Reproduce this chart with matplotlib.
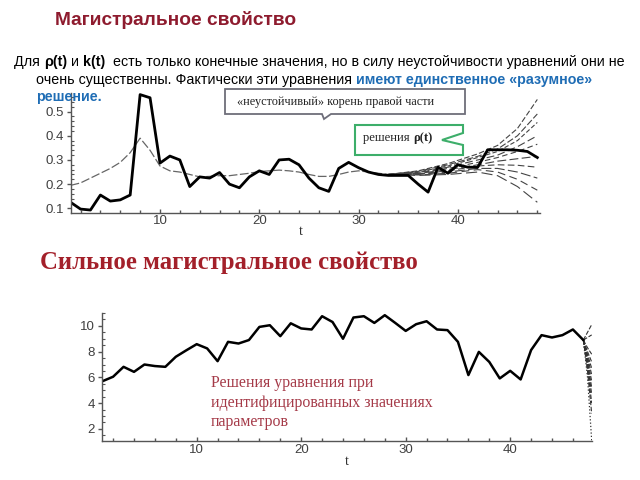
import matplotlib
matplotlib.use('Agg')
import matplotlib.pyplot as plt
from matplotlib.patches import Polygon
from matplotlib.ticker import MultipleLocator

# ---------------- data ----------------
t_top = list(range(1, 49))
rho = [0.125, 0.097, 0.093, 0.155, 0.130, 0.135, 0.155, 0.570, 0.557, 0.287,
       0.316, 0.300, 0.190, 0.230, 0.225, 0.248, 0.200, 0.185, 0.230, 0.255,
       0.240, 0.300, 0.303, 0.280, 0.225, 0.185, 0.170, 0.265, 0.290, 0.268,
       0.250, 0.240, 0.236, 0.236, 0.236, 0.200, 0.167, 0.270, 0.245, 0.280,
       0.270, 0.270, 0.342, 0.342, 0.342, 0.340, 0.335, 0.310]

t_trend = list(range(1, 34))
trend = [0.195, 0.205, 0.225, 0.245, 0.265, 0.290, 0.330, 0.390, 0.340, 0.275,
         0.255, 0.250, 0.240, 0.230, 0.232, 0.235, 0.235, 0.240, 0.245, 0.252,
         0.255, 0.258, 0.255, 0.250, 0.240, 0.232, 0.232, 0.240, 0.250, 0.255,
         0.250, 0.245, 0.240]

fan_t = [33, 36, 39, 42, 44, 46, 48]
fan_rho = [
    [0.240, 0.255, 0.285, 0.325, 0.360, 0.430, 0.550],
    [0.240, 0.253, 0.280, 0.315, 0.345, 0.400, 0.490],
    [0.240, 0.250, 0.275, 0.310, 0.335, 0.380, 0.455],
    [0.240, 0.248, 0.270, 0.300, 0.320, 0.355, 0.400],
    [0.240, 0.246, 0.265, 0.290, 0.310, 0.335, 0.365],
    [0.240, 0.244, 0.260, 0.280, 0.295, 0.305, 0.315],
    [0.240, 0.242, 0.255, 0.275, 0.280, 0.278, 0.270],
    [0.240, 0.240, 0.250, 0.265, 0.265, 0.250, 0.225],
    [0.240, 0.238, 0.245, 0.260, 0.250, 0.220, 0.175],
    [0.240, 0.236, 0.240, 0.250, 0.235, 0.190, 0.125],
]

t_bot = list(range(1, 48))
k_vals = [5.71, 6.05, 6.82, 6.43, 7.00, 6.88, 6.82, 7.60, 8.10, 8.58,
          8.25, 7.26, 8.76, 8.63, 8.90, 9.92, 10.05, 9.20, 10.20, 9.80,
          9.72, 10.75, 10.30, 9.00, 10.65, 10.75, 10.23, 10.83, 10.23, 9.61,
          10.13, 10.36, 9.72, 9.67, 8.76, 6.18, 7.98, 7.20, 5.92, 6.51,
          5.84, 8.12, 9.28, 9.10, 9.28, 9.72, 8.90]

fan_k_t = [47, 47.4, 47.8]
fan_k = [
    [8.90, 9.50, 10.10],
    [8.90, 9.10, 9.30],
    [8.90, 8.30, 7.80],
    [8.90, 8.00, 7.20],
    [8.90, 7.80, 6.70],
    [8.90, 7.60, 6.20],
    [8.90, 7.40, 5.70],
    [8.90, 7.20, 5.20],
    [8.90, 7.00, 4.70],
    [8.90, 6.80, 4.00],
    [8.90, 6.50, 3.20],
]
fan_k_dotted = [8.90, 6.00, 1.10]

top_yticks = [0.1, 0.2, 0.3, 0.4, 0.5]
bot_yticks = [2, 4, 6, 8, 10]
xticks = [10, 20, 30, 40]

# ---------------- layout ----------------
W, H = 640, 480
fig = plt.figure(figsize=(6.4, 4.8), dpi=100)
fig.patch.set_facecolor('white')


def rect(l, r, top, bottom):
    return [l / W, 1 - bottom / H, (r - l) / W, (bottom - top) / H]


def style_axes(ax, ymajor_fmt):
    for s in ('top', 'right'):
        ax.spines[s].set_visible(False)
    for s in ('left', 'bottom'):
        ax.spines[s].set_color('#555555')
        ax.spines[s].set_linewidth(1.0)
    ax.set_facecolor('none')
    ax.xaxis.set_major_locator(MultipleLocator(10))
    ax.xaxis.set_minor_locator(MultipleLocator(2))
    ax.tick_params(axis='x', which='major', direction='in', length=3, width=1,
                   color='#555555', pad=2, labelsize=9.5, labelcolor='#404040')
    ax.tick_params(axis='x', which='minor', direction='in', length=2.5, width=1,
                   color='#555555')
    ax.tick_params(axis='y', which='major', direction='out', length=3, width=1,
                   color='#555555', pad=2, labelsize=9.5, labelcolor='#404040')
    ax.tick_params(axis='y', which='minor', direction='in', length=2, width=0.8,
                   color='#555555')
    for lab in ax.get_xticklabels() + ax.get_yticklabels():
        lab.set_family('Liberation Sans')


# top chart
ax1 = fig.add_axes(rect(70.6, 540.3, 93.4, 212.7))
ax1.set_xlim(1, 48.3)
ax1.set_ylim(0.082, 0.575)
style_axes(ax1, None)
ax1.set_yticks(top_yticks)
ax1.set_yticklabels([f'{v:.1f}' for v in top_yticks], family='Liberation Sans')
ax1.yaxis.set_minor_locator(MultipleLocator(0.02))
ax1.set_xticks(xticks)
ax1.set_xticklabels([str(v) for v in xticks], family='Liberation Sans')

ax1.plot(t_trend, trend, color='#666666', lw=0.9, ls=(0, (7, 2)))
dash_styles = [(0, (5, 2)), (0, (6, 2)), (0, (4, 2)), (0, (7, 3)), (0, (5, 3)),
               (0, (8, 3)), (0, (6, 3)), (0, (9, 3)), (0, (7, 4)), (0, (10, 4))]
for vals, ds in zip(fan_rho, dash_styles):
    ax1.plot(fan_t, vals, color='#444444', lw=0.8, ls=ds)
ax1.plot(t_top, rho, color='black', lw=2.0, solid_joinstyle='round')
ax1.text(24.2, -0.16, 't', transform=ax1.get_xaxis_transform(), ha='center',
         va='center', family='Liberation Serif', fontsize=10, color='#333333')

# bottom chart
ax2 = fig.add_axes(rect(101.6, 591.7, 313, 441))
ax2.set_xlim(0.9, 47.8)
ax2.set_ylim(1.06, 11.0)
style_axes(ax2, None)
ax2.set_yticks(bot_yticks)
ax2.set_yticklabels([str(v) for v in bot_yticks], family='Liberation Sans')
ax2.yaxis.set_minor_locator(MultipleLocator(0.5))
ax2.set_xticks(xticks)
ax2.set_xticklabels([str(v) for v in xticks], family='Liberation Sans')

for vals in fan_k:
    ax2.plot(fan_k_t, vals, color='#333333', lw=0.8, ls=(0, (4, 1.5)))
ax2.plot(fan_k_t, fan_k_dotted, color='#333333', lw=0.9, ls=':')
ax2.plot(t_bot, k_vals, color='black', lw=1.8, solid_joinstyle='round')
ax2.text(24.4, -0.16, 't', transform=ax2.get_xaxis_transform(), ha='center',
         va='center', family='Liberation Serif', fontsize=10, color='#333333')

# overlay for slide text
ov = fig.add_axes([0, 0, 1, 1], zorder=5)
ov.set_xlim(0, W)
ov.set_ylim(H, 0)
ov.axis('off')
ov.patch.set_alpha(0)

renderer = fig.canvas.get_renderer()


def measure(pieces, size, family):
    total = 0
    for s, color, weight in pieces:
        t = ov.text(0, 0, s, fontsize=size, family=family, fontweight=weight)
        total += t.get_window_extent(renderer).width
        t.remove()
    return total


def put_line(x, y, pieces, family, target_w=None, size=10):
    if target_w is not None:
        w = measure(pieces, size, family)
        size = size * target_w / w
    for s, color, weight in pieces:
        t = ov.text(x, y, s, fontsize=size, family=family, fontweight=weight,
                    color=color, ha='left', va='center')
        x += t.get_window_extent(renderer).width
    return size


DARKRED = '#8E1B2E'
BLUE = '#1F6DB5'
BODY = ['Liberation Sans Narrow', 'Liberation Sans', 'DejaVu Sans']
SERIF = ['Liberation Serif', 'DejaVu Serif']

put_line(55, 20, [('Магистральное свойство', DARKRED, 'bold')],
         ['Liberation Sans', 'DejaVu Sans'], target_w=240)

s = put_line(14, 62, [('Для ', 'black', 'normal'), ('ρ(t)', 'black', 'bold'),
                      (' и ', 'black', 'normal'), ('k(t)', 'black', 'bold'),
                      ('  есть только конечные значения, но в силу неустойчивости уравнений они не',
                       'black', 'normal')], BODY, target_w=614)
put_line(36, 80, [('очень существенны. Фактически эти уравнения ', 'black', 'normal'),
                  ('имеют единственное «разумное»', BLUE, 'bold')], BODY, size=s)
put_line(36, 97, [('решение.', BLUE, 'bold')], BODY, size=s)

put_line(40, 262, [('Сильное магистральное свойство', '#A3202A', 'bold')],
         SERIF, target_w=378)

# callout 1
box1 = Polygon([(225, 89), (465, 89), (465, 114), (331, 114), (324, 119),
                (322, 114), (225, 114)], closed=True, facecolor='white',
               edgecolor='#6E6E7A', lw=1.3)
ov.add_patch(box1)
put_line(237, 101.5, [('«неустойчивый» корень правой части', '#222222', 'normal')],
         SERIF, target_w=198)

# callout 2 (green)
box2 = Polygon([(355, 125), (463, 125), (463, 133), (442, 140), (463, 145),
                (463, 155), (355, 155)], closed=True, facecolor='white',
               edgecolor='#3DAE6A', lw=1.5)
ov.add_patch(box2)
put_line(363, 138, [('решения ', '#222222', 'normal'), ('ρ(t)', '#222222', 'bold')],
         SERIF, target_w=69)

# bottom annotation
ANN = '#A53A48'
s2 = put_line(211, 403, [('идентифицированных значениях', ANN, 'normal')],
              SERIF, target_w=222)
put_line(211, 383, [('Решения уравнения при', ANN, 'normal')], SERIF, size=s2)
put_line(211, 422, [('параметров', ANN, 'normal')], SERIF, size=s2)

fig.savefig('out.png', dpi=100, facecolor='white')
